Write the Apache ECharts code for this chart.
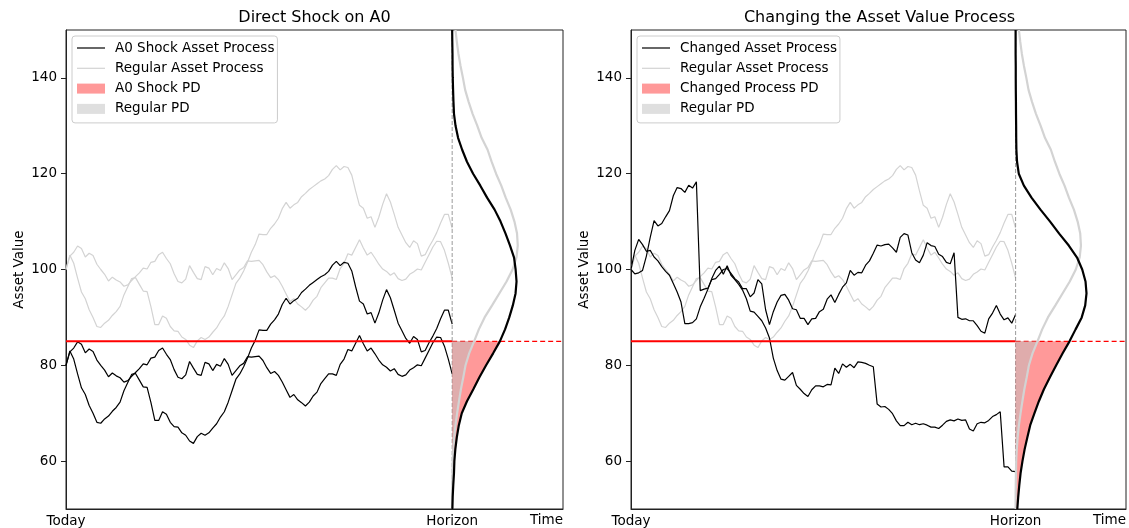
<!DOCTYPE html>
<html>
<head>
<meta charset="utf-8">
<script src="https://cdn.jsdelivr.net/npm/echarts@6/dist/echarts.min.js"></script>
<style>
html,body{margin:0;padding:0;background:#ffffff;}
#chart{width:1129px;height:528px;}
</style>
</head>
<body>
<div id="chart"></div>
<script>
// ---------------- data ----------------
const horizon = 1;          // time of the horizon
const xMax = 1.287;         // right end of the time axis
const nSteps = 100;         // path points are at t = i / nSteps
const threshold = 85;       // default barrier
const yMin = 50, yMax = 150;
const yTicks = [60, 80, 100, 120, 140];
const xTickValues = [0, 1];
const xTickLabels = ['Today', 'Horizon'];

const regularPath1 = [100.0,102.8,103.6,104.9,104.4,102.6,103.4,102.9,101.1,100.0,
  99.0,97.6,98.4,97.8,97.4,96.5,96.8,97.7,98.5,99.3,
  100.3,100.1,101.5,101.7,103.1,103.6,102.3,101.2,99.1,97.5,
  97.2,98.0,100.8,99.4,98.1,97.9,100.6,100.3,98.9,100.2,
  99.8,101.4,100.2,97.9,98.9,99.9,100.4,101.8,101.7,101.8,
  101.9,101.0,99.5,98.3,98.7,97.9,96.5,94.9,93.3,93.9,
  92.8,92.2,91.5,92.3,93.6,94.4,96.2,97.2,98.2,98.2,
  97.9,100.2,101.3,103.3,103.0,104.6,106.2,104.5,103.0,103.6,
  102.4,101.1,100.1,99.6,98.8,99.3,98.1,97.7,98.0,99.0,
  99.5,100.1,99.9,101.5,103.1,104.7,105.9,105.8,104.0,101.3,
  98.2];
const regularPath2 = [100.0,103.0,101.3,98.2,95.3,93.9,91.6,90.0,88.1,87.9,
  88.8,89.4,90.4,91.2,92.3,94.7,96.4,98.1,98.3,96.9,
  95.5,95.4,92.2,88.5,88.5,90.3,89.8,88.1,87.2,87.1,
  85.9,85.4,84.2,83.7,85.1,85.8,85.4,85.9,86.9,87.8,
  89.2,90.3,92.3,94.7,97.1,98.2,99.7,101.5,103.6,105.2,
  107.4,107.3,107.3,108.6,109.5,110.7,112.7,114.0,112.8,113.5,
  114.0,115.2,115.9,116.7,117.3,117.9,118.5,118.9,119.6,120.9,
  121.7,120.8,121.5,121.3,119.7,116.4,113.4,112.8,110.7,111.0,
  108.8,110.9,113.6,115.8,114.1,111.5,108.8,107.2,105.6,104.6,
  106.0,105.4,102.8,103.1,104.7,106.1,107.7,109.7,111.5,111.5,
  108.6];
const shockPath1 = [80.0,82.8,83.6,84.9,84.4,82.6,83.4,82.9,81.1,80.0,
  79.0,77.6,78.4,77.8,77.4,76.5,76.8,77.7,78.5,79.3,
  80.3,80.1,81.5,81.7,83.1,83.6,82.3,81.2,79.1,77.5,
  77.2,78.0,80.8,79.4,78.1,77.9,80.6,80.3,78.9,80.2,
  79.8,81.4,80.2,77.9,78.9,79.9,80.4,81.8,81.7,81.8,
  81.9,81.0,79.5,78.3,78.7,77.9,76.5,74.9,73.3,73.9,
  72.8,72.2,71.5,72.3,73.6,74.4,76.2,77.2,78.2,78.2,
  77.9,80.2,81.3,83.3,83.0,84.6,86.2,84.5,83.0,83.6,
  82.4,81.1,80.1,79.6,78.8,79.3,78.1,77.7,78.0,79.0,
  79.5,80.1,79.9,81.5,83.1,84.7,85.9,85.8,84.0,81.3,
  78.2];
const shockPath2 = [80.0,83.0,81.3,78.2,75.3,73.9,71.6,70.0,68.1,67.9,
  68.8,69.4,70.4,71.2,72.3,74.7,76.4,78.1,78.3,76.9,
  75.5,75.4,72.2,68.5,68.5,70.3,69.8,68.1,67.2,67.1,
  65.9,65.4,64.2,63.7,65.1,65.8,65.4,65.9,66.9,67.8,
  69.2,70.3,72.3,74.7,77.1,78.2,79.7,81.5,83.6,85.2,
  87.4,87.3,87.3,88.6,89.5,90.7,92.7,94.0,92.8,93.5,
  94.0,95.2,95.9,96.7,97.3,97.9,98.5,98.9,99.6,100.9,
  101.7,100.8,101.5,101.3,99.7,96.4,93.4,92.8,90.7,91.0,
  88.8,90.9,93.6,95.8,94.1,91.5,88.8,87.2,85.6,84.6,
  86.0,85.4,82.8,83.1,84.7,86.1,87.7,89.7,91.5,91.5,
  88.6];
const changedPath1 = [100.0,99.1,99.3,99.8,102.8,106.7,110.2,109.1,109.6,111.0,
  112.3,115.4,117.1,116.9,116.1,117.6,117.0,118.3,95.6,95.9,
  96.1,97.9,98.1,99.0,100.0,100.2,99.2,98.1,97.4,96.0,
  96.0,94.3,95.1,97.9,97.0,91.6,88.5,91.2,93.2,94.6,
  94.8,93.6,91.8,91.6,89.8,89.8,88.5,89.7,89.8,91.2,
  91.7,93.8,94.7,93.1,94.8,96.3,97.2,99.8,98.8,99.4,
  99.3,100.9,101.8,103.4,105.1,104.9,105.2,105.3,104.5,103.6,
  106.7,107.5,107.2,103.5,102.0,101.4,103.0,105.6,105.0,104.8,
  103.2,102.7,101.5,101.2,103.5,90.0,89.6,89.7,89.3,89.3,
  88.3,87.1,86.7,89.7,90.9,92.5,90.7,89.5,89.9,88.8,
  90.6];
const changedPath2 = [100.0,104.0,106.3,105.2,103.8,104.0,102.6,101.8,100.6,99.6,
  98.8,97.1,95.3,93.2,88.7,88.7,88.9,89.7,92.2,94.0,
  95.9,98.1,99.8,100.7,99.0,100.8,98.8,97.9,96.9,95.7,
  93.9,91.3,91.1,90.2,89.3,87.8,85.7,81.5,78.9,77.1,
  76.9,77.7,78.5,75.8,75.0,74.1,73.5,74.9,75.7,75.7,
  75.5,76.0,75.9,79.4,78.3,80.3,79.6,80.2,79.5,80.7,
  80.6,80.4,80.0,79.7,71.9,71.3,71.4,70.8,69.9,68.4,
  67.4,67.4,68.1,67.6,67.9,67.6,67.8,67.5,67.1,67.1,
  66.8,67.5,68.3,68.6,68.4,68.8,68.5,68.6,66.7,66.3,
  67.8,68.1,68.0,68.5,69.3,69.7,70.3,58.8,58.8,57.9,
  57.8];

// asset-value levels at which the horizon densities were read
const pdfLevels = [50,52.5,55,57.5,60,62.5,65,67.5,70,72.5,
  75,77.5,80,82.5,85,87.5,90,92.5,95,97.5,
  100,102.5,105,107.5,110,112.5,115,117.5,120,122.5,
  125,127.5,130,132.5,135,137.5,140,142.5,145,147.5,150];
// relative density at the horizon (1 = peak of the regular density)
const regularPdf = [0,0,0.002,0.005,0.009,0.018,0.032,0.051,0.077,0.105,
  0.135,0.172,0.206,0.262,0.338,0.411,0.500,0.615,0.726,0.838,
  0.931,0.991,1.011,1.000,0.960,0.902,0.825,0.757,0.677,0.608,
  0.546,0.454,0.388,0.315,0.254,0.200,0.166,0.129,0.097,0.072,0.051];
const shockPdf = [0.003,0.008,0.017,0.028,0.034,0.049,0.072,0.103,0.148,0.228,
  0.326,0.420,0.523,0.631,0.735,0.815,0.880,0.935,0.977,0.992,
  0.978,0.954,0.892,0.823,0.746,0.654,0.538,0.434,0.323,0.228,
  0.154,0.091,0.052,0.028,0.020,0.014,0.009,0.006,0.005,0.002,0];
const changedPdf = [0.026,0.040,0.057,0.077,0.106,0.140,0.182,0.226,0.292,0.360,
  0.438,0.531,0.628,0.728,0.834,0.928,1.023,1.077,1.097,1.082,
  1.031,0.951,0.823,0.674,0.534,0.385,0.246,0.128,0.049,0.022,
  0.012,0.009,0.008,0.006,0.005,0.003,0.002,0.002,0,0,0];

// ---------------- styling ----------------
const FONT = 'DejaVu Sans';
const pdfWidth = 0.168;   // time units drawn for a relative density of 1
const BLACK = '#000000';
const LIGHT = '#d3d3d3';
const RED_FILL = 'rgba(255,0,0,0.4)';
const GRAY_FILL = 'rgba(192,192,192,0.5)';
const lineIcon = 'path://M0,0 M0,4.4 L28,4.4 L28,5.6 L0,5.6 Z M28,10';

function pathSeries(idx, name, values, color, z) {
  return {
    type: 'line', name: name, xAxisIndex: idx, yAxisIndex: idx,
    data: values.map((v, i) => [i / nSteps * horizon, v]),
    symbol: 'none', color: color, lineStyle: { color: color, width: 1.2 },
    z: z, silent: true, animation: false
  };
}
function segSeries(idx, pts, color, width, type, z) {
  return {
    type: 'line', xAxisIndex: idx, yAxisIndex: idx, data: pts,
    symbol: 'none', color: color, lineStyle: { color: color, width: width, type: type },
    z: z, silent: true, animation: false
  };
}
function pdfCurve(idx, dens, color, z) {
  return {
    type: 'line', xAxisIndex: idx, yAxisIndex: idx,
    data: pdfLevels.map((v, i) => [horizon + pdfWidth * dens[i], v]),
    symbol: 'none', color: color, lineStyle: { color: color, width: 2.2 },
    z: z, silent: true, animation: false
  };
}
function pdfFill(idx, name, dens, color, z) {
  return {
    type: 'custom', name: name, xAxisIndex: idx, yAxisIndex: idx,
    coordinateSystem: 'cartesian2d', data: [[horizon, threshold]],
    itemStyle: { color: color }, z: z, silent: true, clip: true, animation: false,
    renderItem: function (params, api) {
      const pts = [api.coord([horizon, threshold])];
      for (let i = pdfLevels.length - 1; i >= 0; i--) {
        if (pdfLevels[i] <= threshold) pts.push(api.coord([horizon + pdfWidth * dens[i], pdfLevels[i]]));
      }
      pts.push(api.coord([horizon, pdfLevels[0]]));
      return { type: 'polygon', shape: { points: pts }, style: { fill: color } };
    }
  };
}

function panelSeries(idx, blackName, blackA, blackB, pdfName, pdf) {
  return [
    pathSeries(idx, 'Regular Asset Process', regularPath1, LIGHT, 2),
    pathSeries(idx, 'Regular Asset Process', regularPath2, LIGHT, 2),
    pathSeries(idx, blackName, blackA, BLACK, 3),
    pathSeries(idx, blackName, blackB, BLACK, 3),
    segSeries(idx, [[0, threshold], [horizon, threshold]], '#ff0000', 2, 'solid', 4),
    segSeries(idx, [[horizon, threshold], [xMax, threshold]], '#ff0000', 1.1, [5, 3], 4),
    segSeries(idx, [[horizon, yMin], [horizon, yMax]], '#808080', 0.8, [4, 2], 4),
    pdfFill(idx, pdfName, pdf, RED_FILL, 5),
    pdfFill(idx, 'Regular PD', regularPdf, GRAY_FILL, 6),
    pdfCurve(idx, regularPdf, LIGHT, 7),
    pdfCurve(idx, pdf, BLACK, 8)
  ];
}

const grids = [
  { left: 66, top: 30, width: 497, height: 479 },
  { left: 631, top: 30, width: 497, height: 479 }
];
const txt = { fontFamily: FONT, fontSize: 13.5, color: '#000' };

function legendFor(left, names) {
  return {
    left: left, top: 36, orient: 'vertical', selectedMode: false,
    itemWidth: 28, itemHeight: 10, itemGap: 6.3,
    backgroundColor: 'rgba(255,255,255,0.8)', borderColor: '#cccccc', borderWidth: 1, borderRadius: 3,
    padding: [5, 3, 7, 5],
    textStyle: Object.assign({ lineHeight: 14, padding: [0, 0, 0, 5] }, txt),
    data: [
      { name: names[0], icon: lineIcon },
      { name: names[1], icon: lineIcon },
      { name: names[2], icon: 'rect' },
      { name: names[3], icon: 'rect' }
    ]
  };
}

const option = {
  backgroundColor: '#ffffff',
  animation: false,
  title: [
    { text: 'Direct Shock on A0', left: 314.5, top: 10, textAlign: 'center', textVerticalAlign: 'top', padding: 0,
      textStyle: { fontFamily: FONT, fontSize: 16, fontWeight: 'normal', color: '#000' } },
    { text: 'Changing the Asset Value Process', left: 879.5, top: 10, textAlign: 'center', textVerticalAlign: 'top', padding: 0,
      textStyle: { fontFamily: FONT, fontSize: 16, fontWeight: 'normal', color: '#000' } }
  ],
  legend: [
    legendFor(72, ['A0 Shock Asset Process', 'Regular Asset Process', 'A0 Shock PD', 'Regular PD']),
    legendFor(637, ['Changed Asset Process', 'Regular Asset Process', 'Changed Process PD', 'Regular PD'])
  ],
  grid: grids.map(g => Object.assign({ show: true, borderColor: '#222', borderWidth: 1, backgroundColor: 'transparent' }, g)),
  xAxis: [0, 1].map(i => ({
    gridIndex: i, type: 'value', min: 0, max: xMax,
    name: 'Time', nameLocation: 'end', nameGap: 0,
    nameTextStyle: Object.assign({ align: 'right', verticalAlign: 'top', padding: [4, 0, 0, 0] }, txt),
    axisLine: { show: true, onZero: false, lineStyle: { color: '#222', width: 1 } },
    axisTick: { show: false },
    axisLabel: Object.assign({ customValues: xTickValues, margin: 5,
      formatter: v => xTickLabels[xTickValues.indexOf(v)] }, txt),
    splitLine: { show: false }
  })),
  yAxis: [0, 1].map(i => ({
    gridIndex: i, type: 'value', min: yMin, max: yMax,
    name: 'Asset Value', nameLocation: 'middle', nameGap: 40,
    nameTextStyle: txt,
    axisLine: { show: true, onZero: false, lineStyle: { color: '#222', width: 1 } },
    axisTick: { show: true, length: 5, customValues: yTicks, lineStyle: { color: '#222' } },
    axisLabel: Object.assign({ customValues: yTicks, margin: 9 }, txt),
    splitLine: { show: false }
  })),
  series: [].concat(
    panelSeries(0, 'A0 Shock Asset Process', shockPath1, shockPath2, 'A0 Shock PD', shockPdf),
    panelSeries(1, 'Changed Asset Process', changedPath1, changedPath2, 'Changed Process PD', changedPdf)
  )
};

const chart = echarts.init(document.getElementById('chart'), null, { renderer: 'canvas' });
chart.setOption(option);
</script>
</body>
</html>
